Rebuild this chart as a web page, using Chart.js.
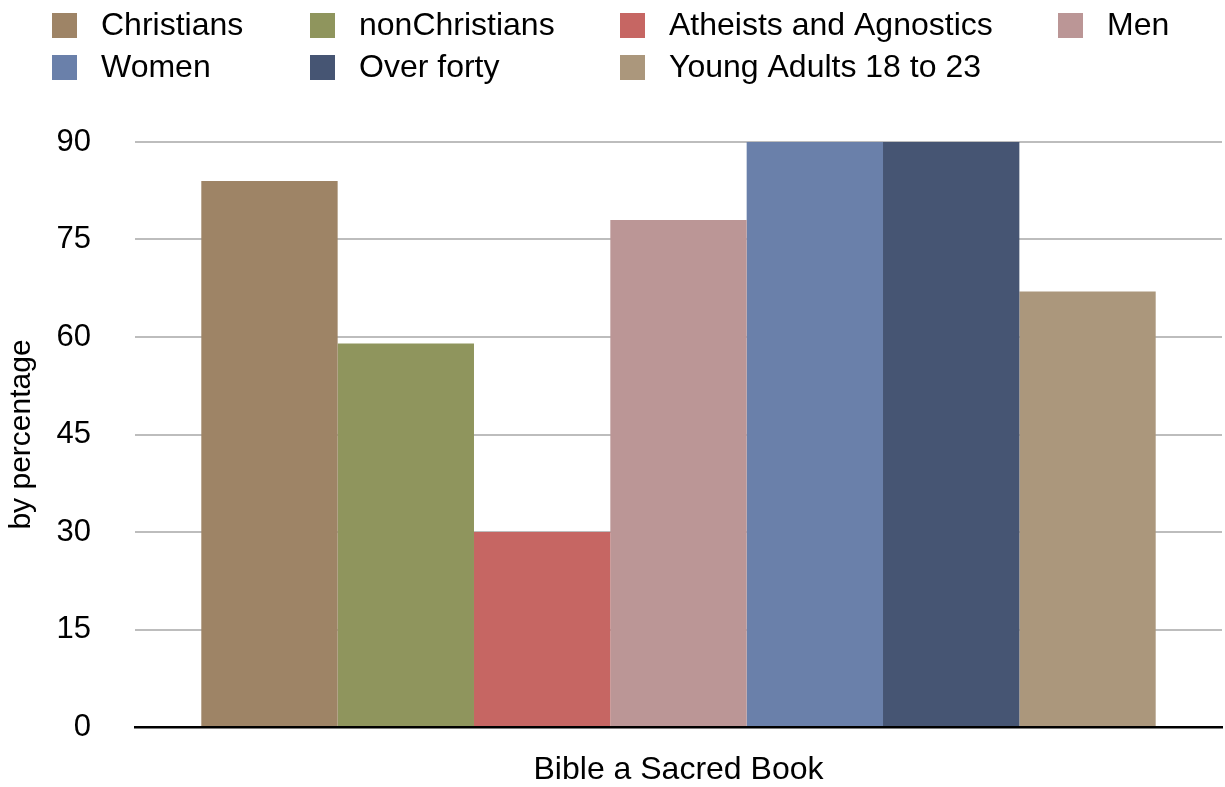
<!DOCTYPE html>
<html lang="en">
<head>
    <meta charset="UTF-8">
    <title>Bible a Sacred Book</title>
    <style>
        body { margin: 0; background: #fff; }
        canvas { display: block; }
    </style>
</head>
<body>
<canvas id="bibleChart" width="1225" height="787"></canvas>

<script src="https://cdn.jsdelivr.net/npm/chart.js@4/dist/chart.umd.min.js"></script>

<script>
  const CATEGORIES = ['Bible a Sacred Book'];
  const GROUPS = [
    'Christians',
    'nonChristians',
    'Atheists and Agnostics',
    'Men',
    'Women',
    'Over forty',
    'Young Adults 18 to 23'
  ];
  const VALUES = [84, 59, 30, 78, 90, 90, 67];
  const COLORS = [
    '#9e8466',
    '#8f955d',
    '#c66663',
    '#bb9696',
    '#6a80aa',
    '#465573',
    '#ab977c'
  ];
  const Y_TICKS = [0, 15, 30, 45, 60, 75, 90];

  const FONT_FAMILY = '"Liberation Sans", Arial, Helvetica, sans-serif';

  // legend drawn as a grid: 4 columns, items wrap onto a second row
  const gridLegend = {
    id: 'gridLegend',
    afterDraw(chart) {
      const ctx = chart.ctx;
      const colX = [52, 310, 620, 1058];
      ctx.save();
      ctx.font = '32px ' + FONT_FAMILY;
      ctx.textBaseline = 'middle';
      ctx.textAlign = 'left';
      chart.data.datasets.forEach((ds, i) => {
        const x = colX[i % 4];
        const y = 13 + Math.floor(i / 4) * 42;
        ctx.fillStyle = ds.backgroundColor;
        ctx.fillRect(x, y, 25, 25);
        ctx.fillStyle = '#000';
        ctx.fillText(ds.label, x + 49, y + 13);
      });
      ctx.restore();
    }
  };

  const datasets = GROUPS.map((name, i) => ({
    label: name,
    data: [VALUES[i]],
    backgroundColor: COLORS[i],
    borderWidth: 0,
    categoryPercentage: 0.878,
    barPercentage: 1.0
  }));

  new Chart(document.getElementById('bibleChart'), {
    type: 'bar',
    data: { labels: CATEGORIES, datasets },
    plugins: [gridLegend],
    options: {
      responsive: false,
      animation: false,
      layout: { padding: { top: 142, right: 3, left: 0, bottom: 0 } },
      plugins: {
        legend: { display: false },
        tooltip: { enabled: false }
      },
      scales: {
        x: {
          grid: { display: false, drawTicks: false },
          border: { display: true, color: '#000', width: 2.5 },
          ticks: {
            color: '#000',
            padding: 24,
            font: { family: FONT_FAMILY, size: 32 }
          },
          afterFit(scale) { scale.height = 60; }
        },
        y: {
          min: 0,
          max: 90,
          afterBuildTicks(scale) {
            scale.ticks = Y_TICKS.map(v => ({ value: v }));
          },
          // invisible tick marks keep the labels away from the plot
          // without the big tick padding pushing the bottom edge up
          grid: {
            color: '#bdbdbd',
            lineWidth: 2,
            drawTicks: true,
            tickLength: 36,
            tickColor: 'rgba(0,0,0,0)'
          },
          border: { display: false },
          ticks: {
            color: '#000',
            padding: 8,
            font: { family: FONT_FAMILY, size: 31 }
          },
          title: {
            display: true,
            text: 'by percentage',
            color: '#000',
            padding: { top: 4, bottom: 0 },
            font: { family: FONT_FAMILY, size: 30 }
          },
          afterFit(scale) { scale.width = 135; }
        }
      }
    }
  });
</script>
</html>
